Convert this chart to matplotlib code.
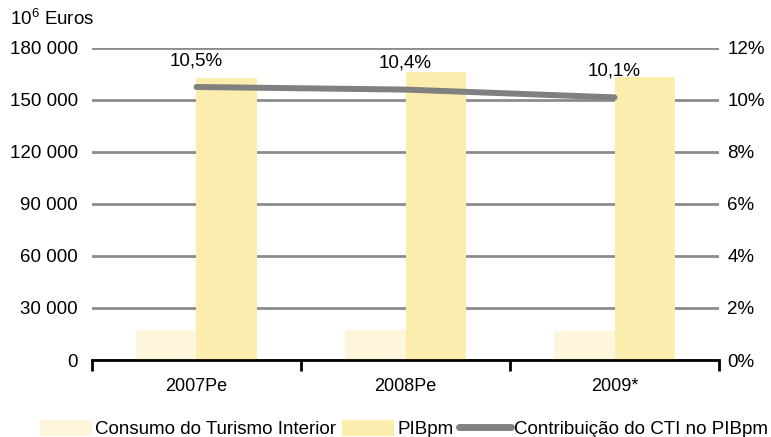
import matplotlib
matplotlib.use("Agg")
import matplotlib.pyplot as plt
from matplotlib.patches import Patch
from matplotlib.lines import Line2D
from matplotlib.ticker import FixedLocator, FuncFormatter

plt.rcParams['font.family'] = ['Liberation Sans', 'DejaVu Sans']
plt.rcParams['mathtext.fontset'] = 'custom'
plt.rcParams['mathtext.rm'] = 'Liberation Sans'

categories = ["2007Pe", "2008Pe", "2009*"]
cti = [17100, 17300, 16500]          # Consumo do Turismo Interior (10^6 Euros)
pib = [162700, 166200, 163300]       # PIBpm (10^6 Euros)
share = [10.5, 10.4, 10.1]           # Contribuição do CTI no PIBpm (%)
share_labels = ["10,5%", "10,4%", "10,1%"]

c_cti = "#FDF6DC"
c_pib = "#FAEDAD"
c_line = "#808080"
c_grid = "#8C8C8C"
fs = 13.5

fig = plt.figure(figsize=(7.71, 4.37), dpi=100)
ax = fig.add_axes([0.1193, 0.1762, 0.8133, 0.714])
ax2 = ax.twinx()

x = list(range(len(categories)))
w = 0.288
ax.bar([i - w / 2 for i in x], cti, width=w, color=c_cti, zorder=2)
ax.bar([i + w / 2 for i in x], pib, width=w, color=c_pib, zorder=2)

ax.set_xlim(-0.5, 2.5)
ax.set_ylim(0, 180000)
ax.set_yticks(range(0, 180001, 30000))
ax.yaxis.set_major_formatter(FuncFormatter(lambda v, p: f"{int(v):,}".replace(",", " ")))
ax.yaxis.grid(True, color=c_grid, linewidth=2)
ax.set_axisbelow(True)

ax.set_xticks(x)
ax.set_xticklabels(categories)
ax.xaxis.set_minor_locator(FixedLocator([-0.5, 0.5, 1.5, 2.5]))
ax.tick_params(axis='x', which='major', length=0, pad=13, labelsize=fs - 0.5)
ax.tick_params(axis='x', which='minor', length=8, width=2, color='black', direction='out')
ax.tick_params(axis='y', length=0, pad=10, labelsize=fs)

for s in ["top", "left", "right"]:
    ax.spines[s].set_visible(False)
    ax2.spines[s].set_visible(False)
ax2.spines["bottom"].set_visible(False)
ax.spines["bottom"].set_linewidth(2)
ax.spines["bottom"].set_color("black")

ax2.plot(x, share, color=c_line, linewidth=4.3, solid_capstyle='round', zorder=3)
ax2.set_ylim(0, 12)
ax2.set_yticks(range(0, 13, 2))
ax2.yaxis.set_major_formatter(FuncFormatter(lambda v, p: f"{int(v)}%"))
ax2.tick_params(axis='y', length=0, pad=6, labelsize=fs)

for xi, yi, lab in zip(x, share, share_labels):
    ax2.annotate(lab, (xi, yi), xytext=(0, 19), textcoords='offset points',
                 ha='center', va='center', fontsize=fs)

fig.text(0.013, 0.957, r"$\mathregular{10^6}$ Euros", fontsize=fs, va='center', ha='left')

handles = [Patch(facecolor=c_cti, edgecolor='none'),
           Patch(facecolor=c_pib, edgecolor='none'),
           Line2D([0], [0], color=c_line, linewidth=5, solid_capstyle='round')]
labels = ["Consumo do Turismo Interior", "PIBpm", "Contribuição do CTI no PIBpm"]
fig.legend(handles, labels, loc='center', bbox_to_anchor=(0.524, 0.018), ncol=3,
           frameon=False, fontsize=fs, handlelength=2.8, handleheight=0.9,
           handletextpad=0.15, columnspacing=0.3, borderpad=0)

fig.savefig("out.png", dpi=100)
